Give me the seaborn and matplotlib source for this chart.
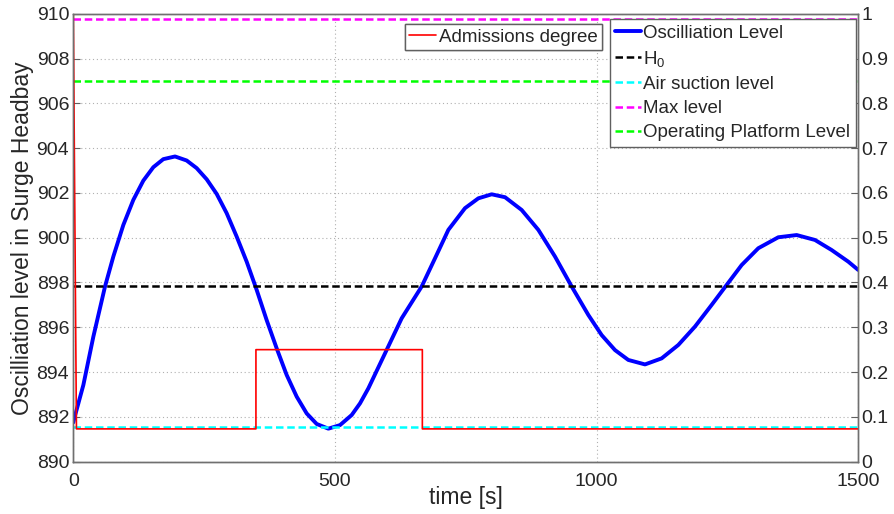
import numpy as np
import pandas as pd
import matplotlib
matplotlib.use("Agg")
import matplotlib.pyplot as plt
import seaborn as sns

# ---- data ----
time_s = [0, 1.3, 19.2, 38.3, 60.6, 76.5, 95.6, 114.7, 133.8, 152.9, 172, 194.4, 216.6, 235.7,
          254.9, 273.9, 293, 312.2, 331.3, 350.4, 369.5, 388.6, 407.7, 426.9, 446, 465.1,
          487.4, 509.7, 532, 547.9, 563.8, 595.6, 627.5, 665.7, 691.2, 716.7, 748.5, 774,
          799.5, 825, 856.8, 888.7, 920.5, 952.4, 984.2, 1009.7, 1035.2, 1060.6, 1092.5,
          1124.3, 1156.2, 1188, 1219.9, 1248.5, 1277.2, 1309, 1347.2, 1382.3, 1417.3, 1449.2,
          1481, 1500]
osc_level = [891.75, 891.88, 893.42, 895.58, 897.82, 899.16, 900.57, 901.69, 902.55, 903.15,
             903.51, 903.63, 903.45, 903.11, 902.61, 901.96, 901.1, 900.05, 898.93, 897.67,
             896.32, 895.06, 893.87, 892.9, 892.15, 891.68, 891.47, 891.63, 892.08, 892.6,
             893.27, 894.83, 896.4, 897.82, 899.08, 900.35, 901.32, 901.76, 901.94, 901.81,
             901.24, 900.35, 899.16, 897.82, 896.55, 895.65, 894.98, 894.54, 894.34, 894.61,
             895.21, 896.03, 897.0, 897.89, 898.78, 899.53, 900.02, 900.12, 899.9, 899.45,
             898.93, 898.56]

adm_time = [0, 6, 349, 349, 667, 667, 1500]
adm_degree = [1.0, 0.073, 0.073, 0.25, 0.25, 0.073, 0.073]

H0 = 897.85
air_suction = 891.53
max_level = 909.75
platform_level = 907.0

xticks = [0, 500, 1000, 1500]
yticks_left = [890, 892, 894, 896, 898, 900, 902, 904, 906, 908, 910]
yticks_right = [0, 0.1, 0.2, 0.3, 0.4, 0.5, 0.6, 0.7, 0.8, 0.9, 1]
yticklabels_right = ["0", "0.1", "0.2", "0.3", "0.4", "0.5", "0.6", "0.7", "0.8", "0.9", "1"]

# ---- style ----
sns.set_style("white")
plt.rcParams["font.family"] = ["Liberation Sans", "DejaVu Sans"]
plt.rcParams["mathtext.fontset"] = "custom"
plt.rcParams["mathtext.rm"] = "Liberation Sans"
plt.rcParams["mathtext.it"] = "Liberation Sans"
plt.rcParams["xtick.direction"] = "in"
plt.rcParams["ytick.direction"] = "in"

fig = plt.figure(figsize=(8.94, 5.14), dpi=100)
ax = fig.add_axes([0.082, 0.102, 0.878, 0.871])

dash = (0, (3, 1.5))
df = pd.DataFrame({"t": time_s, "level": osc_level})
sns.lineplot(data=df, x="t", y="level", ax=ax, color=(0, 0, 1), lw=2.8,
             label="Oscilliation Level", sort=False, estimator=None)
ax.axhline(H0, color="black", ls=dash, lw=1.8, label="H$_0$")
ax.axhline(air_suction, color=(0, 1, 1), ls=dash, lw=1.8, label="Air suction level")
ax.axhline(max_level, color=(1, 0, 1), ls=dash, lw=1.8, label="Max level")
ax.axhline(platform_level, color=(0, 1, 0), ls=dash, lw=1.8, label="Operating Platform Level")

ax.set_xlim(0, 1500)
ax.set_ylim(890, 910)
ax.set_xticks(xticks)
ax.set_yticks(yticks_left)
ax.grid(True, ls=(0, (1, 2.5)), color="#b0b0b0", lw=0.8)
ax.tick_params(axis="y", labelsize=14, length=5, color="#606060", pad=3)
ax.tick_params(axis="x", labelsize=14, length=5, color="#606060", pad=8)
ax.set_xlabel("time [s]", fontsize=16.5, labelpad=-3)
ax.set_ylabel("Oscilliation level in Surge Headbay", fontsize=16.5, labelpad=2)
for s in ax.spines.values():
    s.set_color("#707070")
    s.set_linewidth(1.0)

ax2 = ax.twinx()
df2 = pd.DataFrame({"t": adm_time, "deg": adm_degree})
sns.lineplot(data=df2, x="t", y="deg", ax=ax2, color=(1, 0, 0), lw=1.2,
             label="Admissions degree", sort=False, estimator=None)
ax2.set_ylim(0, 1)
ax2.set_xlim(0, 1500)
ax2.set_yticks(yticks_right)
ax2.set_yticklabels(yticklabels_right)
ax2.set_ylabel("")
ax2.tick_params(axis="y", labelsize=14, length=5, color="#606060", pad=2)
for s in ax2.spines.values():
    s.set_color("#707070")
    s.set_linewidth(1.0)

leg1 = ax.legend(loc="upper right", bbox_to_anchor=(0.997, 0.989), borderaxespad=0,
                 fontsize=13.5, frameon=True, fancybox=False, framealpha=1,
                 edgecolor="#606060", handlelength=1.4, handletextpad=0.1,
                 labelspacing=0.38, borderpad=0.3)
leg1.get_frame().set_linewidth(1.0)
leg2 = ax2.legend(loc="upper right", bbox_to_anchor=(0.6735, 0.978), borderaxespad=0,
                  fontsize=13.5, frameon=True, fancybox=False, framealpha=1,
                  edgecolor="#606060", handlelength=1.4, handletextpad=0.15,
                  borderpad=0.25)
leg2.get_frame().set_linewidth(1.0)
ax2.add_artist(leg2)
leg1.remove()
ax2.add_artist(leg1)

fig.savefig("out.png", dpi=100)
